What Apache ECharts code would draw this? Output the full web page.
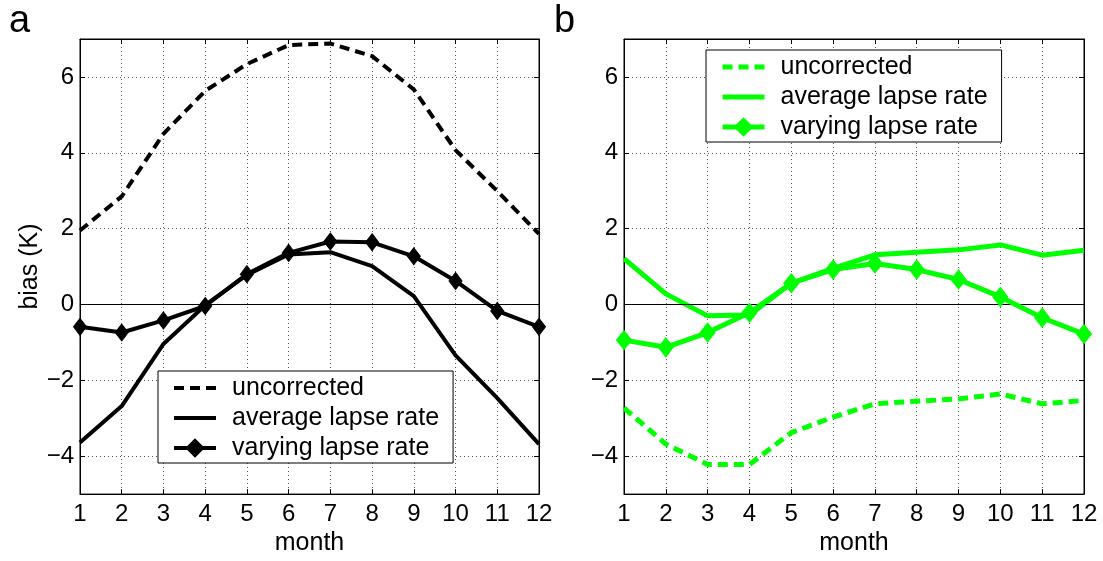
<!DOCTYPE html>
<html>
<head>
<meta charset="utf-8">
<script src="https://cdn.jsdelivr.net/npm/echarts@6/dist/echarts.min.js"></script>
<style>
  html, body { margin: 0; padding: 0; background: #fff; }
  #chart { width: 1103px; height: 561px; }
</style>
</head>
<body>
<div id="chart"></div>
<script>
// Monthly temperature bias (K), months 1..12
const months = [1, 2, 3, 4, 5, 6, 7, 8, 9, 10, 11, 12];

// Panel a
const uncorrectedA = [1.95, 2.85, 4.5, 5.63, 6.34, 6.84, 6.88, 6.55, 5.67, 4.07, 2.99, 1.86];
const averageA     = [-3.64, -2.68, -1.04, -0.02, 0.78, 1.32, 1.38, 1.01, 0.22, -1.34, -2.47, -3.68];
const varyingA     = [-0.59, -0.74, -0.42, -0.04, 0.80, 1.36, 1.66, 1.64, 1.27, 0.62, -0.17, -0.59];

// Panel b
const uncorrectedB = [-2.73, -3.68, -4.22, -4.22, -3.38, -2.97, -2.62, -2.55, -2.49, -2.36, -2.62, -2.53];
const averageB     = [1.21, 0.28, -0.30, -0.28, 0.56, 0.95, 1.31, 1.38, 1.44, 1.57, 1.30, 1.43];
const varyingB     = [-0.94, -1.13, -0.74, -0.22, 0.56, 0.92, 1.08, 0.92, 0.66, 0.20, -0.35, -0.78];

const seriesNames = ['uncorrected', 'average lapse rate', 'varying lapse rate'];
const panelLabels = ['a', 'b'];
const xName = 'month';
const yName = 'bias (K)';

const FONT = "'Liberation Sans', Arial, Helvetica, sans-serif";
const BLACK = '#000000';
const GREEN = '#00ff00';

const pairs = vals => months.map((m, i) => [m, vals[i]]);
const minus = v => String(v).replace('-', '\u2212');

const grids = [
  { left: 80, right: 564, top: 39, bottom: 61 },
  { left: 624, right: 19, top: 39, bottom: 61 }
];

const dotted = { show: true, lineStyle: { color: '#555', width: 1, type: [1, 3] } };

function xAxes(gi) {
  return [
    {
      type: 'value', gridIndex: gi, position: 'bottom', min: 1, max: 12, interval: 1,
      name: xName, nameLocation: 'middle', nameGap: 34,
      nameTextStyle: { fontFamily: FONT, fontSize: 25, color: BLACK },
      axisLine: { show: true, onZero: false, lineStyle: { color: BLACK, width: 1 } },
      axisTick: { show: true, inside: true, length: 5, lineStyle: { color: BLACK } },
      axisLabel: { fontFamily: FONT, fontSize: 24, color: BLACK, margin: 8 },
      splitLine: dotted
    },
    {
      type: 'value', gridIndex: gi, position: 'top', min: 1, max: 12, interval: 1,
      axisLine: { show: true, onZero: false, lineStyle: { color: BLACK, width: 1 } },
      axisTick: { show: true, inside: true, length: 5, lineStyle: { color: BLACK } },
      axisLabel: { show: false },
      splitLine: { show: false }
    }
  ];
}

function yAxes(gi, withName) {
  const evenOnly = v => (Math.round(v) % 2 === 0 ? minus(v) : '');
  return [
    {
      type: 'value', gridIndex: gi, position: 'left', min: -5, max: 7, splitNumber: 6,
      name: withName ? yName : '', nameLocation: 'middle', nameGap: 37, nameRotate: 90,
      nameTextStyle: { fontFamily: FONT, fontSize: 25, color: BLACK },
      axisLine: { show: true, onZero: false, lineStyle: { color: BLACK, width: 1 } },
      axisTick: { show: true, inside: true, length: 5, lineStyle: { color: BLACK } },
      axisLabel: { fontFamily: FONT, fontSize: 24, color: BLACK, margin: 6, formatter: evenOnly,
                   showMinLabel: false, showMaxLabel: false },
      splitLine: dotted
    },
    {
      type: 'value', gridIndex: gi, position: 'right', min: -5, max: 7, splitNumber: 6,
      axisLine: { show: true, onZero: false, lineStyle: { color: BLACK, width: 1 } },
      axisTick: { show: true, inside: true, length: 5, lineStyle: { color: BLACK } },
      axisLabel: { show: false },
      splitLine: { show: false }
    }
  ];
}

function panelSeries(gi, prefix, color, width, diamondSize, data) {
  const xi = gi * 2, yi = gi * 2;
  return [
    {
      name: prefix + seriesNames[0], type: 'line', xAxisIndex: xi, yAxisIndex: yi,
      data: pairs(data[0]), symbol: 'none', z: 3,
      lineStyle: { color, width, type: [10, 6], cap: 'butt' }, itemStyle: { color },
      markLine: {
        silent: true, symbol: 'none', label: { show: false }, animation: false,
        lineStyle: { color: BLACK, width: 1, type: 'solid' },
        data: [{ yAxis: 0 }]
      }
    },
    {
      name: prefix + seriesNames[1], type: 'line', xAxisIndex: xi, yAxisIndex: yi,
      data: pairs(data[1]), symbol: 'none', z: 4,
      lineStyle: { color, width, type: 'solid' }, itemStyle: { color }
    },
    {
      name: prefix + seriesNames[2], type: 'line', xAxisIndex: xi, yAxisIndex: yi,
      data: pairs(data[2]), symbol: 'diamond', symbolSize: diamondSize, showSymbol: true, z: 5,
      lineStyle: { color, width, type: 'solid' }, itemStyle: { color, borderColor: color, borderWidth: 1 }
    }
  ];
}

function legendFor(prefix, left, top, width) {
  // plain line entries carry no marker; only the last entry shows its diamond
  const hidden = { opacity: 0, borderWidth: 0 };
  return {
    show: true, orient: 'vertical', left, top,
    data: seriesNames.map((n, i) => (i < 2
      ? { name: prefix + n, itemStyle: hidden }
      : { name: prefix + n })),
    formatter: n => n.slice(prefix.length),
    backgroundColor: '#ffffff', borderColor: BLACK, borderWidth: 1, borderRadius: 0,
    padding: [4, 14, 2, 14], itemGap: 4, itemWidth: 42, itemHeight: 21,
    lineStyle: { width },
    selectedMode: false,
    textStyle: { fontFamily: FONT, fontSize: 25, color: BLACK, lineHeight: 26, padding: [0, 0, 0, 11] }
  };
}

const chart = echarts.init(document.getElementById('chart'), null, { renderer: 'canvas' });
chart.setOption({
  animation: false,
  backgroundColor: '#ffffff',
  grid: grids.map(g => Object.assign({ show: true, borderColor: BLACK, borderWidth: 1, containLabel: false }, g)),
  xAxis: [...xAxes(0), ...xAxes(1)],
  yAxis: [...yAxes(0, true), ...yAxes(1, false)],
  legend: [legendFor('a:', 158, 371, 4), legendFor('b:', 706, 50, 5)],
  series: [
    ...panelSeries(0, 'a:', BLACK, 4, [13, 17], [uncorrectedA, averageA, varyingA]),
    ...panelSeries(1, 'b:', GREEN, 5, [15, 19], [uncorrectedB, averageB, varyingB])
  ],
  graphic: [
    { type: 'text', left: 9, top: 3, style: { text: panelLabels[0], font: '38px ' + FONT, fill: BLACK } },
    { type: 'text', left: 554, top: 3, style: { text: panelLabels[1], font: '38px ' + FONT, fill: BLACK } }
  ]
});
</script>
</body>
</html>
